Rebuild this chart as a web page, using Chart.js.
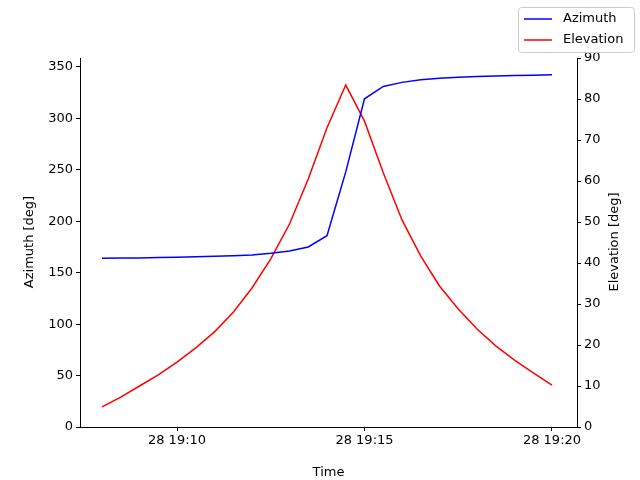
<!DOCTYPE html>
<html><head><meta charset="utf-8">
<script src="https://cdn.jsdelivr.net/npm/chart.js@4"></script>
<style>html,body{margin:0;padding:0;background:#fff}#w{width:640px;height:480px}</style>
</head><body><div id="w"><canvas id="c" width="640" height="480"></canvas></div>
<script>
const times=[8,8.5,9,9.5,10,10.5,11,11.5,12,12.5,13,13.5,14,14.5,15,15.5,16,16.5,17,17.5,18,18.5,19,19.5,20];
const azimuth=[164,164.2,164.4,164.7,165,165.4,165.9,166.5,167.3,168.8,171,175,186,248,319,331,335,337.5,339,340,340.7,341.2,341.6,342,342.3];
const elevation=[4.9,7.3,10,12.7,15.8,19.3,23.2,28,33.9,41,49.5,60.5,73,83.4,74.6,62,50.5,41.7,34.4,28.8,23.9,19.8,16.3,13.2,10.2];
const tickLabels={10:"28 19:10",15:"28 19:15",20:"28 19:20"};
const font={family:"DejaVu Sans",size:13};
const legendPlugin={id:'lg',afterDraw(ch){const c=ch.ctx;c.save();
c.fillStyle='#fff';c.strokeStyle='#ccc';c.lineWidth=1;
c.beginPath();c.roundRect(518.5,7.5,116,45,3);c.fill();c.stroke();
[['Azimuth','blue',19],['Elevation','red',40]].forEach(([t,col,y])=>{
c.strokeStyle=col;c.lineWidth=1.5;c.beginPath();c.moveTo(524,y);c.lineTo(552,y);c.stroke();
c.fillStyle='#000';c.font='13px "DejaVu Sans"';c.textBaseline='middle';c.fillText(t,563,y);});
c.font='13px "DejaVu Sans"';c.textAlign='center';c.textBaseline='middle';
[['Azimuth [deg]',30],['Elevation [deg]',615]].forEach(([t,x])=>{c.save();c.translate(x,242);c.rotate(-Math.PI/2);c.fillText(t,0,0);c.restore();});
c.restore();}};
const grid={drawOnChartArea:false,drawTicks:true,tickLength:4,color:'#000'};
new Chart(document.getElementById('c'),{type:'line',
data:{datasets:[
{label:'Azimuth',data:times.map((t,i)=>({x:t,y:azimuth[i]})),borderColor:'blue',borderWidth:1.5,pointRadius:0,yAxisID:'y',tension:0},
{label:'Elevation',data:times.map((t,i)=>({x:t,y:elevation[i]})),borderColor:'red',borderWidth:1.5,pointRadius:0,yAxisID:'y1',tension:0}]},
options:{responsive:false,animation:false,layout:{padding:{top:58,left:0,right:0,bottom:0}},
plugins:{legend:{display:false},tooltip:{enabled:false}},
scales:{
x:{type:'linear',min:7.413,max:20.667,grid,border:{color:'#000'},
 afterFit(s){s.height=53;},
 afterBuildTicks(s){s.ticks=[{value:10},{value:15},{value:20}];},
 ticks:{color:'#000',font,padding:2,callback:v=>tickLabels[v]||''},
 title:{display:true,text:'Time',color:'#000',font,padding:{top:0,bottom:0}}},
y:{position:'left',min:0,max:358.7,grid,border:{color:'#000'},
 afterFit(s){s.width=80;},
 afterBuildTicks(s){s.ticks=[0,50,100,150,200,250,300,350].map(v=>({value:v}));},
 ticks:{color:'#000',font,padding:3}},
y1:{position:'right',min:0,max:90,grid,border:{color:'#000'},
 afterFit(s){s.width=63;},
 afterBuildTicks(s){s.ticks=[0,10,20,30,40,50,60,70,80,90].map(v=>({value:v}));},
 ticks:{color:'#000',font,padding:3}}}},
plugins:[legendPlugin]});
</script></body></html>
